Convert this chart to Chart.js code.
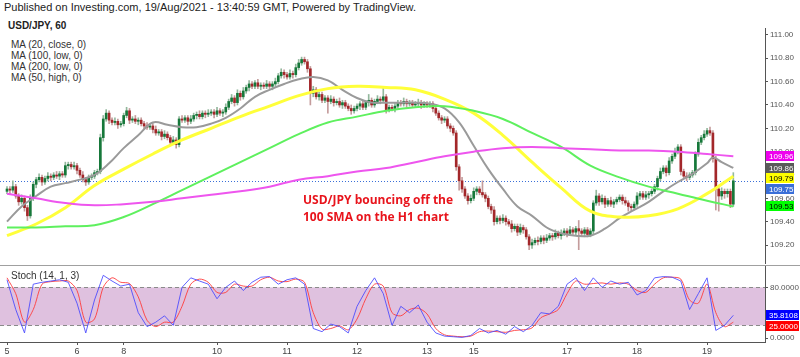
<!DOCTYPE html>
<html><head><meta charset="utf-8">
<script src="https://cdn.jsdelivr.net/npm/chart.js@4.4.0/dist/chart.umd.min.js"></script>
<style>
html,body{margin:0;padding:0;background:#fff;width:800px;height:357px;overflow:hidden;font-family:Arial,"Liberation Sans",sans-serif;}
.t{position:absolute;white-space:nowrap;color:#333;font-size:10px;}
#c1{position:absolute;left:0;top:28px;}
#c2{position:absolute;left:0;top:266px;}
#sep{position:absolute;left:0;top:265px;width:800px;height:1px;background:#a0a0a0;}
#note{position:absolute;left:303px;top:191px;color:#e8141c;font-weight:bold;font-size:12px;line-height:17px;font-family:"Open Sans",Arial,sans-serif;white-space:nowrap;}
</style></head>
<body>
<div class="t" style="left:4px;top:1px;color:#222;font-size:11px">Published on Investing.com, 19/Aug/2021 - 13:40:59 GMT, Powered by TradingView.</div>
<div class="t" style="left:8px;top:20px;font-weight:bold;color:#222">USD/JPY, 60</div>
<div class="t" style="left:11px;top:39px">MA (20, close, 0)</div>
<div class="t" style="left:11px;top:50px">MA (100, low, 0)</div>
<div class="t" style="left:11px;top:61px">MA (200, low, 0)</div>
<div class="t" style="left:11px;top:72px">MA (50, high, 0)</div>
<canvas id="c1" width="800" height="236"></canvas>
<div id="sep"></div>
<canvas id="c2" width="800" height="91"></canvas>
<div class="t" style="left:11px;top:270px">Stoch (14, 1, 3)</div>
<div id="note">USD/JPY bouncing off the<br>100 SMA on the H1 chart</div>
<script>
// ---------- DATA ----------
const dayIdx = [0,24,40,72,96,120,144,160,192,216,240];
const dayLabels = ['5','6','8','10','11','12','13','15','17','18','19'];
const priceTicks = [109.2,109.4,109.6,109.8,110.0,110.2,110.4,110.6,110.8,111.0];
const stochTicks = [0,80];
const stochBands = [80,20];
const firstOpen = 109.66;
const closes = [
109.68,109.67,109.70,109.62,109.57,109.60,109.52,109.45,109.60,109.72,
109.76,109.78,109.74,109.77,109.79,109.78,109.80,109.79,109.81,109.80,
109.88,109.89,109.87,109.88,109.84,109.80,109.76,109.74,109.78,109.79,
109.82,109.83,110.12,110.28,110.33,110.27,110.25,110.26,110.23,110.24,
110.31,110.35,110.27,110.28,110.26,110.27,110.24,110.22,110.21,110.22,
110.19,110.16,110.17,110.13,110.15,110.12,110.08,110.10,110.06,110.28,
110.27,110.29,110.26,110.28,110.31,110.32,110.30,110.33,110.32,110.33,
110.34,110.32,110.35,110.33,110.34,110.38,110.43,110.46,110.42,110.50,
110.47,110.52,110.55,110.58,110.56,110.59,110.56,110.57,110.56,110.58,
110.56,110.58,110.60,110.65,110.68,110.66,110.64,110.67,110.66,110.72,
110.76,110.79,110.77,110.71,110.50,110.53,110.47,110.49,110.44,110.46,
110.43,110.45,110.42,110.43,110.40,110.42,110.39,110.37,110.35,110.37,
110.39,110.41,110.38,110.42,110.44,110.40,110.43,110.45,110.44,110.47,
110.36,110.38,110.37,110.39,110.42,110.41,110.43,110.41,110.42,110.40,
110.41,110.42,110.40,110.41,110.40,110.41,110.37,110.33,110.29,110.27,
110.28,110.22,110.20,110.16,109.87,109.75,109.68,109.62,109.58,109.60,
109.66,109.68,109.65,109.63,109.60,109.53,109.50,109.40,109.43,109.41,
109.43,109.40,109.38,109.34,109.36,109.31,109.35,109.33,109.27,109.20,
109.22,109.24,109.23,109.26,109.24,109.26,109.28,109.27,109.30,109.28,
109.30,109.32,109.30,109.33,109.31,109.34,109.32,109.30,109.33,109.29,
109.32,109.56,109.62,109.57,109.60,109.55,109.58,109.55,109.57,109.59,
109.61,109.58,109.56,109.53,109.52,109.55,109.62,109.64,109.61,109.63,
109.64,109.66,109.70,109.77,109.83,109.86,109.82,109.92,109.96,110.00,
110.04,109.83,109.79,109.78,109.80,109.82,109.98,110.08,110.12,110.15,
110.18,110.16,109.94,109.68,109.62,109.66,109.64,109.66,109.55,109.75];
// wick extensions beyond the body, in pips (0.01)
const hiWick = [
2,2,5,2,2,3,2,2,3,2, 2,3,2,2,3,2,2,3,2,2, 3,2,2,3,2,2,3,2,2,2, 2,2,3,3,3,2,2,3,2,2,
2,3,2,2,3,2,2,2,3,2, 2,3,2,2,3,2,2,3,2,2, 3,2,2,3,2,2,3,2,2,3, 2,2,3,2,2,3,2,3,2,3,
2,3,2,3,2,2,3,2,2,3, 2,2,3,2,3,2,2,3,2,3, 3,2,2,2,2,3,2,2,2,2, 2,3,2,2,3,2,2,2,3,2,
2,2,3,2,5,2,2,3,2,8, 2,2,2,3,2,2,3,2,2,2, 2,3,2,2,2,2,2,3,2,2, 2,2,2,2,2,2,3,2,2,3,
3,2,2,10,2,2,2,3,2,2, 3,2,2,3,2,2,3,2,2,2, 3,2,3,2,2,3,2,2,3,2, 3,2,2,3,2,2,7,2,2,2,
2,2,5,2,3,2,2,3,2,2, 2,2,3,2,2,2,3,2,2,3, 2,2,2,2,3,2,2,3,2,3, 2,2,2,3,2,2,2,3,2,3,
2,3,2,2,2,3,2,2,2,7];
const loWick = [
2,3,2,2,3,2,3,4,2,2, 3,2,3,2,2,3,2,2,3,2, 2,3,2,2,3,2,2,3,2,2, 2,2,2,3,2,3,2,2,3,2,
2,2,3,2,2,3,2,3,2,2, 3,2,2,3,2,2,3,2,3,2, 2,2,3,2,2,3,2,2,3,2, 2,3,2,2,3,2,2,2,3,2,
3,2,2,3,2,2,2,3,2,2, 2,3,2,2,2,3,2,2,3,2, 2,2,2,3,10,3,2,3,2,2, 10,2,3,2,2,3,2,2,3,2,
2,3,2,2,3,2,2,2,3,2, 3,2,2,3,2,2,2,3,2,2, 2,2,3,2,2,2,3,2,2,3, 2,2,3,2,3,8,3,2,3,2,
2,3,2,2,3,2,3,3,2,3, 2,3,2,3,2,3,2,3,2,4, 3,2,3,2,3,2,2,3,2,2, 3,2,3,2,2,3,16,2,3,2,
2,3,2,3,2,3,2,2,3,2, 2,3,2,4,3,2,2,3,2,2, 3,2,2,3,2,2,3,2,2,2, 2,3,2,3,2,2,2,2,2,2,
2,2,3,18,13,3,4,3,3,2];
const maIdx = [0,10,20,30,40,50,60,70,80,90,100,110,120,130,140,150,160,170,180,190,200,210,220,230,240,249];
const ma200 = [109.64,109.60,109.56,109.54,109.55,109.57,109.60,109.63,109.66,109.70,109.76,109.79,109.83,109.86,109.91,109.96,110.00,110.03,110.04,110.03,110.02,110.01,110.01,110.00,109.98,109.96];
const ma100 = [109.35,109.35,109.36,109.37,109.44,109.55,109.67,109.79,109.91,110.03,110.15,110.25,110.30,110.35,110.38,110.39,110.35,110.28,110.16,110.04,109.88,109.78,109.70,109.64,109.58,109.53];
const ma50 = [109.28,109.38,109.52,109.71,109.85,109.98,110.10,110.20,110.30,110.39,110.48,110.54,110.56,110.55,110.53,110.45,110.33,110.14,109.91,109.69,109.49,109.44,109.45,109.51,109.64,109.79];
const ma20Idx = [0,5,10,15,20,25,30,35,40,45,50,55,60,65,70,75,80,85,90,95,100,105,110,115,120,125,130,135,140,145,150,155,160,165,170,175,180,185,190,195,200,205,210,215,220,225,230,235,240,242,245,249];
const ma20 = [109.40,109.53,109.62,109.70,109.73,109.76,109.80,109.90,110.03,110.14,
110.25,110.23,110.21,110.21,110.24,110.29,110.37,110.47,110.53,110.58,
110.62,110.64,110.61,110.53,110.46,110.42,110.42,110.42,110.42,110.41,
110.37,110.25,110.05,109.85,109.68,109.53,109.45,109.35,109.30,109.28,
109.28,109.34,109.43,109.50,109.57,109.66,109.74,109.81,109.90,109.95,109.91,109.86];
const stIdx = [0,3,6,9,12,15,18,21,24,27,30,33,36,39,42,45,48,51,54,57,60,63,66,69,72,75,78,81,84,87,90,93,96,99,102,105,108,111,114,117,120,123,126,129,132,135,138,141,144,147,150,153,156,159,162,165,168,171,174,177,180,183,186,189,192,195,198,201,204,207,210,213,216,219,222,225,228,231,234,237,240,243,246,249];
const stochK = [92,45,8,85,88,90,92,88,55,8, 60,99,90,82,85,40,18,25,35,20, 80,95,90,85,62,80,90,75,88,96,
97,85,92,95,85,15,10,22,18,8, 50,75,95,70,20,50,40,52,25,8, 3,2,1,4,15,8,12,6,18,10,
20,40,38,50,85,95,75,95,80,90, 85,88,68,75,95,97,96,90,45,70, 95,12,20,35.8108];
const stochD = [95,70,25,45,85,89,90,90,75,25, 30,80,95,88,86,65,28,18,25,25, 50,85,93,88,72,72,85,82,82,92,
96,90,89,93,88,40,14,15,19,13, 30,62,85,82,40,35,45,47,38,15, 5,3,2,3,10,11,10,9,12,13,
16,32,38,45,70,90,85,86,87,85, 87,85,75,72,85,95,96,93,60,55, 85,40,18,25];

// ---------- BUILD ----------
const UP='#16783a', DN='#a3272a', UPW='#93b89d', DNW='#c49c9c';
const opens = closes.map((c,i)=> i===0 ? firstOpen : closes[i-1]);
const isUp = closes.map((c,i)=> c>=opens[i]);
const bodies = closes.map((c,i)=>({x:i,y:[opens[i],c]}));
const wicks = closes.map((c,i)=>({x:i,y:[Math.min(opens[i],c)-loWick[i]/100, Math.max(opens[i],c)+hiWick[i]/100]}));
const pts = (idx,vals)=> idx.map((x,k)=>({x:x,y:vals[k]}));
const XMIN=-2.4, XMAX=259.86;
Chart.defaults.font.family='Arial, "Liberation Sans", sans-serif';

const lastClose = closes[closes.length-1];
const mainBoxes = [
 {v:ma200[ma200.length-1], bg:'#ee00ee', fg:'#fff'},
 {v:ma20[ma20.length-1], bg:'#5a5a5a', fg:'#fff'},
 {v:ma50[ma50.length-1], bg:'#ffff00', fg:'#000'},
 {v:lastClose, bg:'#3a6fd8', fg:'#fff'},
 {v:ma100[ma100.length-1], bg:'#00ff00', fg:'#000'}
];
function drawBoxes(chart, boxes, dec, w){
  const ctx=chart.ctx, ys=chart.scales.y, x0=chart.chartArea.right+1;
  const arr=boxes.slice().sort((a,b)=>b.v-a.v);
  let prev=-1e9;
  ctx.save();
  ctx.font='8px Arial, "Liberation Sans", sans-serif';
  ctx.textBaseline='middle';
  arr.forEach(b=>{
    let y=ys.getPixelForValue(b.v);
    if(y<prev+10.5) y=prev+10.5;
    prev=y;
    ctx.fillStyle=b.bg; ctx.fillRect(x0,Math.round(y-5),w,10);
    ctx.fillStyle=b.fg; ctx.fillText(b.v.toFixed(dec),x0+3,y+0.5);
  });
  ctx.restore();
}
const mainPlugin={id:'mainP',
  beforeDatasetsDraw(chart){
    const ctx=chart.ctx, y=Math.round(chart.scales.y.getPixelForValue(lastClose))+0.5, a=chart.chartArea;
    ctx.save(); ctx.strokeStyle='#3a6fd8'; ctx.lineWidth=1; ctx.setLineDash([1,2]);
    ctx.beginPath(); ctx.moveTo(a.left,y); ctx.lineTo(a.right,y); ctx.stroke(); ctx.restore();
  },
  afterDraw(chart){ drawBoxes(chart, mainBoxes, 2, 28); }
};
new Chart(document.getElementById('c1'),{
  type:'bar',
  data:{datasets:[
    {type:'line',data:pts(maIdx,ma200),borderColor:'#ee55ee',borderWidth:2,pointRadius:0,tension:0.4,order:1},
    {type:'line',data:pts(maIdx,ma100),borderColor:'#5ef05e',borderWidth:2,pointRadius:0,tension:0.4,order:1},
    {type:'line',data:pts(maIdx,ma50),borderColor:'#ffff3a',borderWidth:3,pointRadius:0,tension:0.4,order:1},
    {type:'line',data:pts(ma20Idx,ma20),borderColor:'#9a9a9a',borderWidth:2,pointRadius:0,tension:0.4,order:1},
    {type:'bar',data:wicks,backgroundColor:isUp.map(u=>u?UPW:DNW),barThickness:1,grouped:false,order:11},
    {type:'bar',data:bodies,backgroundColor:isUp.map(u=>u?UP:DN),barThickness:2,minBarLength:1,grouped:false,order:10}
  ]},
  options:{responsive:false,animation:false,events:[],layout:{padding:0},
    plugins:{legend:{display:false},tooltip:{enabled:false}},
    scales:{
      x:{type:'linear',min:XMIN,max:XMAX,offset:false,display:false},
      y:{position:'right',min:109.0372,max:111.0595,
         afterFit(s){s.width=35;s.paddingTop=0;s.paddingBottom=0;},
         afterBuildTicks(s){s.ticks=priceTicks.map(v=>({value:v}));},
         ticks:{callback:v=>v.toFixed(2),color:'#555',font:{size:8},padding:2},
         grid:{drawOnChartArea:false,tickLength:3,color:'#555'},
         border:{color:'#555'}}
    }},
  plugins:[mainPlugin]
});

const stochBoxes=[
  {v:stochK[stochK.length-1],bg:'#0000ff',fg:'#fff'},
  {v:stochD[stochD.length-1],bg:'#ff0000',fg:'#fff'}
];
const stPlugin={id:'stP',
  beforeDatasetsDraw(chart){
    const ctx=chart.ctx, ys=chart.scales.y, a=chart.chartArea;
    const y1=ys.getPixelForValue(stochBands[0]), y2=ys.getPixelForValue(stochBands[1]);
    ctx.save();
    ctx.fillStyle='#dfc1df'; ctx.fillRect(a.left,y1,a.right-a.left,y2-y1);
    ctx.strokeStyle='#8a8a8a'; ctx.lineWidth=1; ctx.setLineDash([4,3]);
    [y1,y2].forEach(y=>{ctx.beginPath();ctx.moveTo(a.left,Math.round(y)+0.5);ctx.lineTo(a.right,Math.round(y)+0.5);ctx.stroke();});
    ctx.restore();
  },
  afterDraw(chart){ drawBoxes(chart, stochBoxes, 4, 33); }
};
new Chart(document.getElementById('c2'),{
  type:'line',
  data:{datasets:[
    {data:pts(stIdx,stochK),borderColor:'rgba(70,70,255,0.85)',borderWidth:1,pointRadius:0,tension:0},
    {data:pts(stIdx,stochD),borderColor:'rgba(255,60,60,0.9)',borderWidth:1,pointRadius:0,tension:0.3}
  ]},
  options:{responsive:false,animation:false,events:[],layout:{padding:0},
    plugins:{legend:{display:false},tooltip:{enabled:false}},
    scales:{
      x:{type:'linear',min:XMIN,max:XMAX,offset:false,
         afterFit(s){s.height=15;s.paddingLeft=0;s.paddingRight=0;},
         afterBuildTicks(s){s.ticks=dayIdx.map(v=>({value:v}));},
         ticks:{callback:v=>dayLabels[dayIdx.indexOf(v)],color:'#444',font:{size:9},maxRotation:0,autoSkip:false,padding:1},
         grid:{drawOnChartArea:false,tickLength:3,color:'#555'},border:{color:'#555'}},
      y:{position:'right',min:-6.3,max:113.7,
         afterFit(s){s.width=35;s.paddingTop=0;s.paddingBottom=0;},
         afterBuildTicks(s){s.ticks=stochTicks.map(v=>({value:v}));},
         ticks:{callback:v=>v.toFixed(4),color:'#555',font:{size:8},padding:2},
         grid:{drawOnChartArea:false,tickLength:3,color:'#555'},border:{color:'#555'}}
    }},
  plugins:[stPlugin]
});
</script>
</body></html>
